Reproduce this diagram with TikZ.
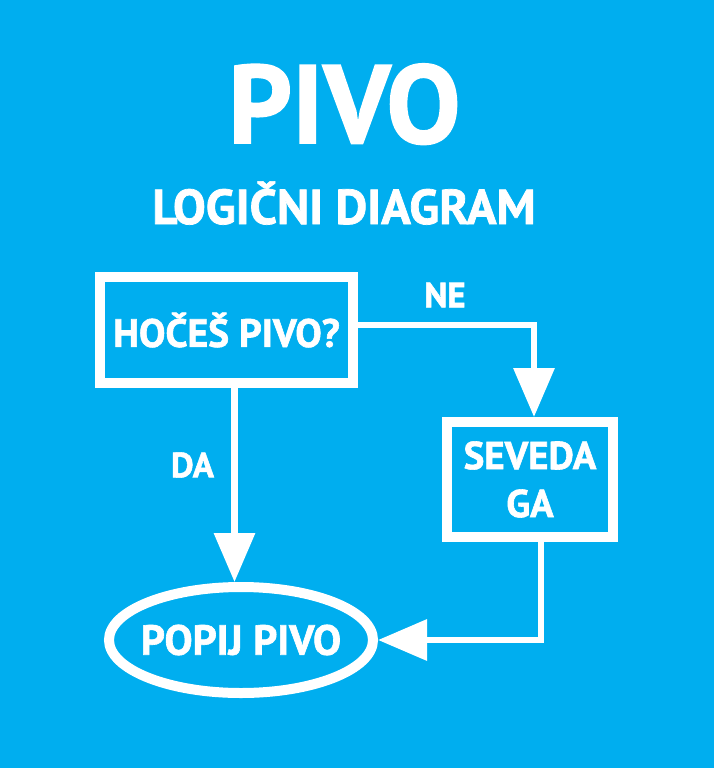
\documentclass[tikz,border=0pt]{standalone}
\usepackage{fontspec}
\setmainfont{PT Sans}[BoldFeatures={FakeBold=1.5}]
\usetikzlibrary{arrows.meta,shapes.geometric,calc}
\definecolor{bgblue}{HTML}{00AEEF}
\begin{document}
\begin{tikzpicture}[x=1pt,y=-1pt,
  box/.style={draw=white,line width=10pt,rectangle,inner sep=0pt,text=white,font=\bfseries,align=center},
  oval/.style={draw=white,line width=10pt,ellipse,inner sep=0pt},
  txt/.style={text=white,font=\bfseries,inner sep=0pt},
  conn/.style={draw=white,line width=6.5pt,-{Triangle[length=49pt,width=40pt]}}]
\fill[bgblue] (0,0) rectangle (714,768);
\useasboundingbox (0,0) rectangle (714,768);
\node[txt,anchor=base,font=\fontsize{111}{111}\selectfont\bfseries] (title) at (344.5,143) {PIVO};
\node[txt,anchor=base,font=\fontsize{49}{49}\selectfont\bfseries] (sub) at (344,224) {LOGIČNI DIAGRAM};
\node[box,minimum width=253pt,minimum height=106pt,font=\fontsize{39.5}{39.5}\selectfont\bfseries] (q) at (226.5,330) {HOČEŠ PIVO?};
\node[box,minimum width=166pt,minimum height=115pt,font=\fontsize{39}{48}\selectfont\bfseries] (s) at (530,479.5) {SEVEDA\\GA};
\node[oval,minimum width=264pt,minimum height=106pt] (p) at (241,640) {};
\node[txt,font=\fontsize{42}{42}\selectfont\bfseries] (pt) at (p.center) {POPIJ PIVO};
\node[txt,font=\fontsize{35}{35}\selectfont\bfseries] (ne) at (445,295) {NE};
\node[txt,font=\fontsize{35}{35}\selectfont\bfseries] (da) at (192.5,465) {DA};
\draw[conn] ([yshift=5pt]q.east) -| ([xshift=4pt]s.north);
\draw[conn] ([xshift=8pt]q.south) -- ([xshift=8pt]q.south |- p.north);
\draw[conn] ([xshift=11pt]s.south) |- (p.east);
\end{tikzpicture}
\end{document}
